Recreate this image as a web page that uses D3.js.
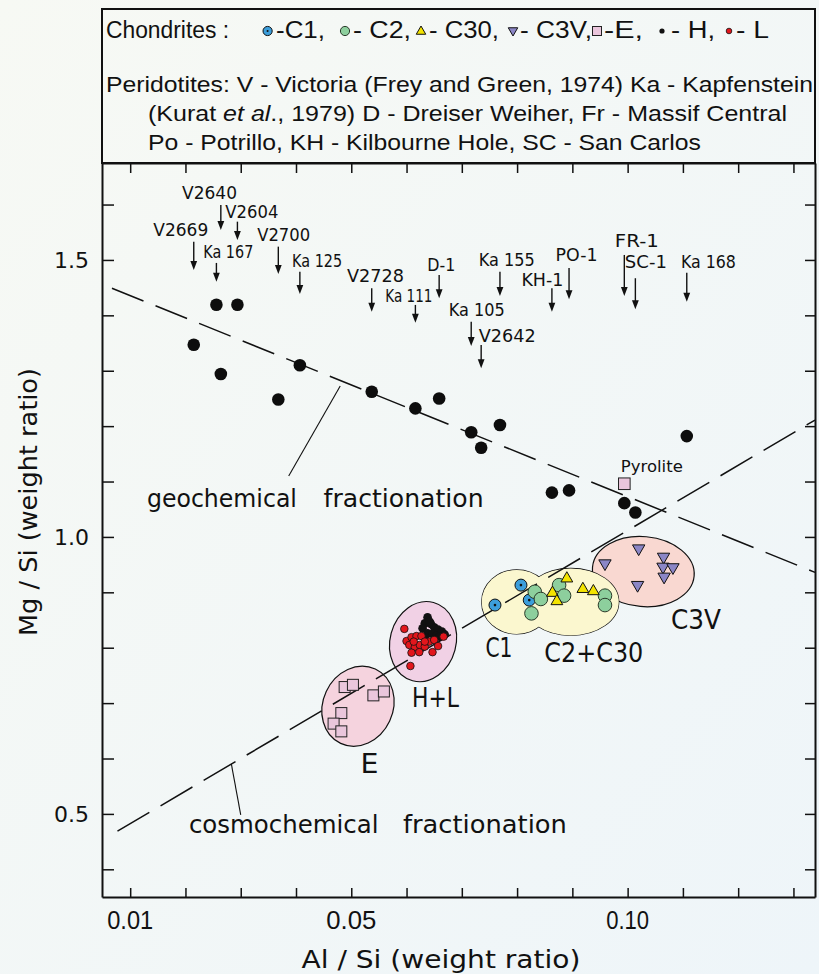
<!DOCTYPE html>
<html>
<head>
<meta charset="utf-8">
<script src="https://cdn.jsdelivr.net/npm/d3@7"></script>
<style>
  html, body { margin: 0; padding: 0; background: #f2f7f8; }
  svg { display: block; }
</style>
</head>
<body>
<svg id="chart" width="819" height="974"></svg>
<script>
// ---- Peridotites (Al/Si vs Mg/Si, weight ratios) ----
const peridotiteNames = ["V2669","V2640","Ka 167","V2604","V2700","Ka 125","V2728","Ka 111","D-1","Ka 105","V2642","Ka 155","KH-1","PO-1","FR-1","SC-1","Ka 168"];
const peridotiteAlSi  = [0.0215,0.0264,0.0256,0.0294,0.0368,0.0407,0.0537,0.0616,0.0659,0.0717,0.0735,0.0769,0.0863,0.0894,0.0994,0.1014,0.1107];
const peridotiteMgSi  = [1.347,1.294,1.419,1.419,1.248,1.310,1.262,1.232,1.250,1.189,1.161,1.202,1.080,1.084,1.061,1.044,1.182];

// sample label placement (label centre, arrow top / bottom, in axis units)
const labelAlSi     = [0.01915,0.02435,0.02775,0.03201,0.03777,0.04382,0.05438,0.06042,0.0663,0.07272,0.07821,0.07812,0.08458,0.09076,0.10167,0.1033,0.11462];
const labelMgSi     = [1.5542,1.6204,1.5144,1.5872,1.5451,1.4987,1.4711,1.435,1.491,1.4097,1.3634,1.5,1.4639,1.509,1.5348,1.4969,1.4969];
const arrowTopMgSi  = [1.533,1.5993,1.4946,1.5691,1.524,1.4789,1.4489,1.4188,1.4729,1.3886,1.3466,1.4789,1.4489,1.4856,1.509,1.467,1.4771];
const arrowEndMgSi  = [1.482,1.5542,1.4608,1.5361,1.4747,1.4386,1.4067,1.3868,1.4309,1.3448,1.3045,1.435,1.4067,1.4291,1.435,1.411,1.4247];
const labelWidths   = [55,55,50,53,53,50,57,47,28,56,57,56,42,42,44,42,55];

// ---- Chondrites ----
const c1AlSi  = [0.0807,0.0760,0.0822];
const c1MgSi  = [0.913,0.877,0.886];
const c2AlSi  = [0.0832,0.0843,0.0826,0.0876,0.0885,0.0959,0.0959];
const c2MgSi  = [0.901,0.888,0.862,0.913,0.894,0.894,0.877];
const c30AlSi = [0.0890,0.0864,0.0872,0.0919,0.0938];
const c30MgSi = [0.926,0.900,0.885,0.907,0.903];
const c3vAlSi = [0.1020,0.0959,0.1065,0.1064,0.1082,0.1066,0.1018];
const c3vMgSi = [0.978,0.951,0.963,0.945,0.944,0.927,0.912];
const eAlSi   = [0.0488,0.0503,0.0540,0.0559,0.0482,0.0468,0.0482];
const eMgSi   = [0.729,0.733,0.714,0.721,0.682,0.663,0.649];
const hAlSi   = [0.0638,0.0633,0.0644,0.0629,0.0650,0.0657,0.0664,0.0669,0.0638,0.0647,0.0654,0.0633,0.0642,0.0660];
const hMgSi   = [0.855,0.844,0.843,0.835,0.837,0.833,0.829,0.824,0.826,0.825,0.821,0.819,0.847,0.820];
const lAlSi   = [0.0596,0.0600,0.0609,0.0618,0.0627,0.0605,0.0615,0.0624,0.0633,0.0641,0.0650,0.0657,0.0647,0.0623,0.0609,0.0607,0.0667,0.0613,0.0633];
const lMgSi   = [0.834,0.812,0.819,0.821,0.821,0.805,0.801,0.805,0.802,0.811,0.814,0.803,0.792,0.792,0.791,0.767,0.820,0.811,0.811];
const pyroliteAlSi = [0.0994];
const pyroliteMgSi = [1.096];

// group envelopes: centre in axis units, radii in px, rotation in degrees
const groupNames  = ["E","H+L","C1","C2","C3V"];
const groupAlSi   = [0.05121,0.06299,0.07993,0.08971,0.10284];
const groupMgSi   = [0.6944,0.811,0.8827,0.8827,0.9374];

// trend lines (end points)
const geoLineAlSi   = [0.0067,0.1339];
const geoLineMgSi   = [1.449,0.936];
const cosmoLineAlSi = [0.0077,0.1339];
const cosmoLineMgSi = [0.4688,1.211];

// axis ticks
const xMinorTicks = d3.range(1,14).map(d => d/100);
const xLabelTicks = [0.01,0.05,0.10];
const yMinorTicks = d3.range(4,17).map(d => d/10);
const yLabelTicks = [0.5,1.0,1.5];

// ---------------------------------------------------------------
const svg = d3.select("#chart");
const x = d3.scaleLinear().domain([0.0049,0.1339]).range([102,815]);
const y = d3.scaleLinear().domain([0.35,1.675]).range([897,163]);

const PLOT_FONT = "'DejaVu Sans', sans-serif";
const LEGEND_FONT = "'Liberation Sans', Arial, sans-serif";

// background
const defs = svg.append("defs");
const bg = defs.append("linearGradient").attr("id","bg").attr("x1","0").attr("y1","0").attr("x2","1").attr("y2","1");
bg.append("stop").attr("offset","0%").attr("stop-color","#f7f9f4");
bg.append("stop").attr("offset","100%").attr("stop-color","#eef5f9");
svg.append("rect").attr("width",819).attr("height",974).attr("fill","url(#bg)");

// marker drawing
const colors = {c1:"#3c9edb", c2:"#8dcf9d", c30:"#f3e300", c3v:"#8b86c6", e:"#eac6dc", h:"#111", l:"#e2161c"};
function marker(g, type, cx, cy, s) {
  if (type === "c1") {
    g.append("circle").attr("cx",cx).attr("cy",cy).attr("r",s).attr("fill",colors.c1).attr("stroke","#111").attr("stroke-width",1);
    g.append("circle").attr("cx",cx).attr("cy",cy).attr("r",Math.max(1,s*0.22)).attr("fill","#111");
  } else if (type === "c2") {
    g.append("circle").attr("cx",cx).attr("cy",cy).attr("r",s).attr("fill",colors.c2).attr("stroke","#2a3a2a").attr("stroke-width",1);
  } else if (type === "c30") {
    g.append("path").attr("d",`M${cx},${cy-s} L${cx+s*0.95},${cy+s*0.65} L${cx-s*0.95},${cy+s*0.65} Z`)
      .attr("fill",colors.c30).attr("stroke","#111").attr("stroke-width",1);
  } else if (type === "c3v") {
    g.append("path").attr("d",`M${cx},${cy+s} L${cx+s*0.95},${cy-s*0.65} L${cx-s*0.95},${cy-s*0.65} Z`)
      .attr("fill",colors.c3v).attr("stroke","#111").attr("stroke-width",1);
  } else if (type === "e") {
    g.append("rect").attr("x",cx-s).attr("y",cy-s).attr("width",2*s).attr("height",2*s)
      .attr("fill",colors.e).attr("stroke","#222").attr("stroke-width",1);
  } else if (type === "h") {
    g.append("circle").attr("cx",cx).attr("cy",cy).attr("r",s).attr("fill","#111");
  } else if (type === "l") {
    g.append("circle").attr("cx",cx).attr("cy",cy).attr("r",s).attr("fill",colors.l).attr("stroke","#111").attr("stroke-width",0.8);
  }
}

// ---------------- legend box ----------------
const legend = svg.append("g");
legend.append("rect").attr("x",102).attr("y",9).attr("width",713).attr("height",154)
  .attr("fill","none").attr("stroke","#111").attr("stroke-width",2);

const legendRow = [
  {t:"Chondrites :", x:106, w:123},
  {sym:"c1", x:267.6, s:4.6},
  {t:"-C1,", x:276, w:49},
  {sym:"c2", x:345, s:4.6},
  {t:"- C2,", x:353, w:58},
  {sym:"c30", x:421, s:5},
  {t:"- C30,", x:429, w:70},
  {sym:"c3v", x:513, s:5},
  {t:"- C3V,", x:520, w:72},
  {sym:"e", x:597, s:4.5},
  {t:"-E,", x:604, w:39},
  {sym:"h", x:662, s:2.6},
  {t:"- H,", x:671, w:44},
  {sym:"l", x:729, s:2.8},
  {t:"- L", x:736, w:33}
];
legendRow.forEach(d => {
  if (d.t) {
    legend.append("text").attr("x",d.x).attr("y",38).text(d.t)
      .attr("font-family",LEGEND_FONT).attr("font-size",23).attr("fill","#111")
      .attr("textLength",d.w).attr("lengthAdjust","spacingAndGlyphs");
  } else {
    marker(legend, d.sym, d.x, 31, d.s);
  }
});
legend.append("text").attr("x",106).attr("y",92)
  .attr("font-family",LEGEND_FONT).attr("font-size",22).attr("fill","#111")
  .attr("textLength",707).attr("lengthAdjust","spacingAndGlyphs")
  .text("Peridotites: V - Victoria (Frey and Green, 1974) Ka - Kapfenstein");
const l2 = legend.append("text").attr("x",148).attr("y",121)
  .attr("font-family",LEGEND_FONT).attr("font-size",22).attr("fill","#111")
  .attr("textLength",639).attr("lengthAdjust","spacingAndGlyphs");
l2.append("tspan").text("(Kurat ");
l2.append("tspan").attr("font-style","italic").text("et al");
l2.append("tspan").text("., 1979) D - Dreiser Weiher, Fr - Massif Central");
legend.append("text").attr("x",148).attr("y",150)
  .attr("font-family",LEGEND_FONT).attr("font-size",22).attr("fill","#111")
  .attr("textLength",553).attr("lengthAdjust","spacingAndGlyphs")
  .text("Po - Potrillo, KH - Kilbourne Hole, SC - San Carlos");

// ---------------- group envelopes ----------------
const envSizes = {"E":[35,41,25], "H+L":[33,40.5,15], "C1":[35,32,0], "C2":[48,33.5,0], "C3V":[51,35,5]};
const envFill  = {"E":"#f5d3de", "H+L":"#f1d1e5", "C1":"#fbf7cf", "C2":"#fbf7cf", "C3V":"#f9d8d1"};
const envG = svg.append("g");
function envelope(i, withStroke, withFill) {
  const name = groupNames[i];
  const [rx, ry, rot] = envSizes[name];
  const cx = x(groupAlSi[i]), cy = y(groupMgSi[i]);
  envG.append("ellipse").attr("cx",cx).attr("cy",cy).attr("rx",rx).attr("ry",ry)
    .attr("transform",`rotate(${rot},${cx},${cy})`)
    .attr("fill", withFill ? envFill[name] : "none")
    .attr("stroke", withStroke ? "#111" : "none").attr("stroke-width",1.2);
}
envelope(0,true,true);
envelope(1,true,true);
envelope(4,true,true);
// C1 and C2+C30 share one outline: outlines first, then fills on top
envelope(2,true,true);
envelope(3,true,true);
envelope(2,false,true);
envelope(3,false,true);

// ---------------- trend lines ----------------
const lineG = svg.append("g").attr("fill","none").attr("stroke","#111").attr("stroke-width",1.5);
lineG.append("line")
  .attr("x1",x(geoLineAlSi[0])).attr("y1",y(geoLineMgSi[0]))
  .attr("x2",x(geoLineAlSi[1])).attr("y2",y(geoLineMgSi[1]))
  .attr("stroke-dasharray","34,13");
lineG.append("line")
  .attr("x1",x(cosmoLineAlSi[0])).attr("y1",y(cosmoLineMgSi[0]))
  .attr("x2",x(cosmoLineAlSi[1])).attr("y2",y(cosmoLineMgSi[1]))
  .attr("stroke-dasharray","37,13");
// leader lines to the trend labels
lineG.append("line").attr("stroke-width",1.1)
  .attr("x1",x(0.0480)).attr("y1",y(1.2726)).attr("x2",x(0.03868)).attr("y2",y(1.1101));
lineG.append("line").attr("stroke-width",1.1)
  .attr("x1",x(0.0283)).attr("y1",y(0.5903)).attr("x2",x(0.0300)).attr("y2",y(0.4982));

// trend labels
function plotText(txt, ax, my, size, width, anchor) {
  return svg.append("text").attr("x",x(ax)).attr("y",y(my)).text(txt)
    .attr("font-family",PLOT_FONT).attr("font-size",size).attr("fill","#111")
    .attr("text-anchor",anchor || "start")
    .attr("textLength",width).attr("lengthAdjust","spacingAndGlyphs");
}
plotText("geochemical", 0.01303, 1.0547, 25, 150);
plotText("fractionation", 0.0450, 1.0547, 25, 160);
plotText("cosmochemical", 0.02062, 0.4652, 25, 189.6);
plotText("fractionation", 0.05935, 0.4652, 25, 164);

// ---------------- points ----------------
const ptG = svg.append("g");
eAlSi.forEach((v,i) => marker(ptG, "e", x(v), y(eMgSi[i]), 5.5));
hAlSi.forEach((v,i) => marker(ptG, "h", x(v), y(hMgSi[i]), 4.3));
lAlSi.forEach((v,i) => marker(ptG, "l", x(v), y(lMgSi[i]), 3.8));
c1AlSi.forEach((v,i) => marker(ptG, "c1", x(v), y(c1MgSi[i]), 6));
c2AlSi.forEach((v,i) => marker(ptG, "c2", x(v), y(c2MgSi[i]), 6.8));
c30AlSi.forEach((v,i) => marker(ptG, "c30", x(v), y(c30MgSi[i]), 6.2));
c3vAlSi.forEach((v,i) => marker(ptG, "c3v", x(v), y(c3vMgSi[i]), 6.5));
pyroliteAlSi.forEach((v,i) => marker(ptG, "e", x(v), y(pyroliteMgSi[i]), 5.8));
peridotiteAlSi.forEach((v,i) => {
  ptG.append("circle").attr("cx",x(v)).attr("cy",y(peridotiteMgSi[i])).attr("r",6.3).attr("fill","#0d0d0d");
});

// sample arrows + names
const annG = svg.append("g");
peridotiteNames.forEach((name,i) => {
  const ax = x(peridotiteAlSi[i]);
  const yTop = y(arrowTopMgSi[i]), yEnd = y(arrowEndMgSi[i]);
  annG.append("line").attr("x1",ax).attr("x2",ax).attr("y1",yTop).attr("y2",yEnd-6)
    .attr("stroke","#111").attr("stroke-width",1.4);
  annG.append("path").attr("d",`M${ax-3.4},${yEnd-9} L${ax+3.4},${yEnd-9} L${ax},${yEnd} Z`).attr("fill","#111");
  annG.append("text").attr("x",x(labelAlSi[i])).attr("y",y(labelMgSi[i])).attr("dy","0.36em")
    .attr("text-anchor","middle").attr("font-family",PLOT_FONT).attr("font-size",17).attr("fill","#111")
    .attr("textLength",labelWidths[i]).attr("lengthAdjust","spacingAndGlyphs").text(name);
});

// group labels
plotText("Pyrolite", 0.10438, 1.1173, 15, 62, "middle");
plotText("E", 0.0533, 0.574, 26, 18, "middle");
plotText("H+L", 0.06525, 0.6937, 26, 47, "middle");
plotText("C1", 0.07672, 0.7839, 26, 27, "middle");
plotText("C2+C30", 0.09388, 0.7749, 26, 99, "middle");
plotText("C3V", 0.11236, 0.8334, 26, 50, "middle");

// ---------------- axes ----------------
const axisG = svg.append("g");
function styleAxis(g) {
  g.select(".domain").attr("stroke","#111").attr("stroke-width",2);
  g.selectAll(".tick line").attr("stroke","#111").attr("stroke-width",1.5);
  g.selectAll(".tick text").remove();
}
axisG.append("g").attr("transform","translate(0,897)")
  .call(d3.axisBottom(x).tickValues(xMinorTicks).tickSizeInner(-9).tickSizeOuter(0).tickFormat(""))
  .call(styleAxis);
axisG.append("g").attr("transform","translate(0,163)")
  .call(d3.axisTop(x).tickValues(xMinorTicks).tickSizeInner(-10).tickSizeOuter(0).tickFormat(""))
  .call(styleAxis);
axisG.append("g").attr("transform","translate(102,0)")
  .call(d3.axisLeft(y).tickValues(yMinorTicks).tickSizeInner(-12).tickSizeOuter(0).tickFormat(""))
  .call(styleAxis);
axisG.append("g").attr("transform","translate(815,0)")
  .call(d3.axisRight(y).tickValues(yMinorTicks).tickSizeInner(-10).tickSizeOuter(0).tickFormat(""))
  .call(styleAxis);
// frame extends up around the legend
axisG.append("line").attr("x1",102).attr("x2",102).attr("y1",9).attr("y2",163).attr("stroke","#111").attr("stroke-width",2);
axisG.append("line").attr("x1",815).attr("x2",815).attr("y1",9).attr("y2",163).attr("stroke","#111").attr("stroke-width",2);

// tick labels
const xFmt = d3.format(".2f");
const xLabelW = {"0.01":46, "0.05":50, "0.10":43};
xLabelTicks.forEach(v => {
  const s = xFmt(v);
  svg.append("text").attr("x",x(v)).attr("y",929).attr("text-anchor","middle")
    .attr("font-family",LEGEND_FONT).attr("font-size",26).attr("fill","#111")
    .attr("textLength",xLabelW[s]).attr("lengthAdjust","spacingAndGlyphs").text(s);
});
const yFmt = d3.format(".1f");
yLabelTicks.forEach(v => {
  svg.append("text").attr("x",89).attr("y",y(v)).attr("dy","0.36em").attr("text-anchor","end")
    .attr("font-family",PLOT_FONT).attr("font-size",22).attr("fill","#111").text(yFmt(v));
});

// axis titles
svg.append("text").attr("x",441).attr("y",968).attr("text-anchor","middle")
  .attr("font-family",PLOT_FONT).attr("font-size",25).attr("fill","#111")
  .attr("textLength",279).attr("lengthAdjust","spacingAndGlyphs")
  .text("Al / Si (weight ratio)");
svg.append("text").attr("transform","translate(37,502) rotate(-90)").attr("text-anchor","middle")
  .attr("font-family",PLOT_FONT).attr("font-size",24).attr("fill","#111")
  .attr("textLength",268).attr("lengthAdjust","spacingAndGlyphs")
  .text("Mg / Si (weight ratio)");
</script>
</body>
</html>
